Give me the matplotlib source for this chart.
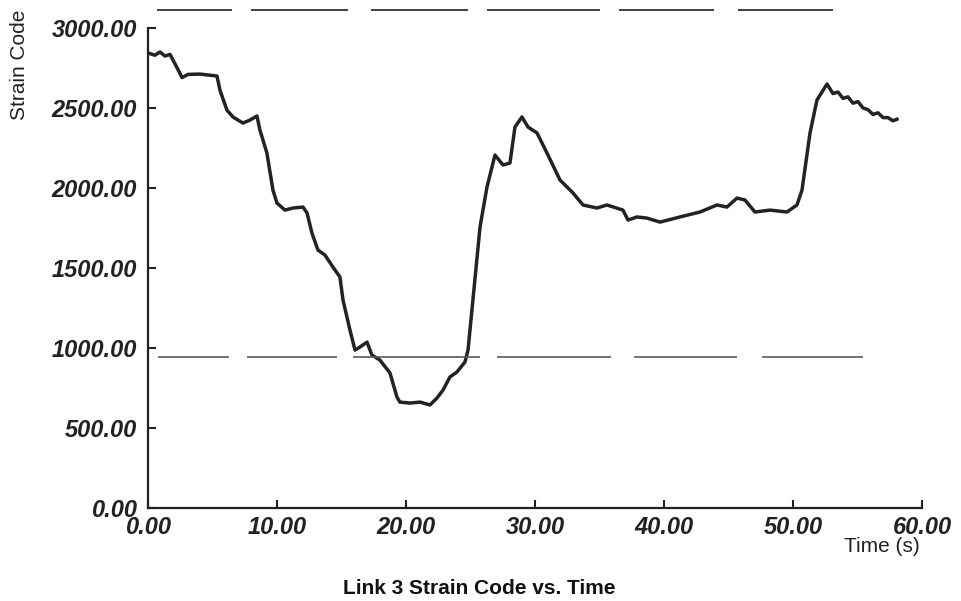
import matplotlib
matplotlib.use('Agg')
import matplotlib.pyplot as plt

# strain code trace
time_s = [0.00, 0.54, 0.93, 1.32, 1.71, 1.94, 2.33, 2.64, 3.10, 4.03, 4.81, 5.35,
          5.58, 6.12, 6.59, 7.36, 7.91, 8.45, 8.68, 9.22, 9.69, 10.00, 10.62, 11.24,
          12.02, 12.33, 12.71, 13.18, 13.72, 14.34, 14.88, 15.12, 15.66, 16.05, 16.43,
          16.98, 17.36, 17.98, 18.76, 19.30, 19.53, 20.31, 21.09, 21.86, 22.40, 22.87,
          23.41, 23.95, 24.57, 24.81, 25.19, 25.74, 26.28, 26.90, 27.52, 28.06, 28.45,
          28.99, 29.46, 30.16, 30.93, 31.94, 32.95, 33.72, 34.81, 35.58, 36.82, 37.21,
          37.91, 38.68, 39.69, 41.24, 42.79, 44.11, 44.88, 45.66, 46.28, 47.05, 48.22,
          49.53, 50.31, 50.70, 51.32, 51.86, 52.25, 52.64, 53.10, 53.49, 53.88, 54.26,
          54.65, 55.04, 55.43, 55.81, 56.20, 56.59, 56.98, 57.36, 57.75, 58.06]
strain = [2844, 2830, 2850, 2825, 2835, 2800, 2740, 2690, 2710, 2712, 2705, 2700,
          2612, 2487, 2444, 2406, 2425, 2450, 2362, 2219, 1987, 1906, 1862, 1875,
          1881, 1844, 1719, 1612, 1581, 1506, 1444, 1300, 1112, 987, 1006,
          1037, 956, 925, 844, 694, 662, 656, 662, 644, 687, 737,
          819, 850, 912, 987, 1300, 1756, 2006, 2206, 2144, 2156, 2381,
          2444, 2381, 2344, 2219, 2050, 1969, 1894, 1875, 1894, 1862, 1800,
          1819, 1812, 1787, 1819, 1850, 1894, 1881, 1937, 1925, 1850, 1862,
          1850, 1894, 1987, 2344, 2550, 2600, 2650, 2590, 2600, 2560, 2570,
          2530, 2540, 2500, 2490, 2460, 2470, 2440, 2440, 2420, 2430]

upper_limit = 3110
lower_limit = 944
upper_span = [0.70, 53.10]
lower_span = [0.78, 55.43]

x_ticks = [0, 10, 20, 30, 40, 50, 60]
y_ticks = [0, 500, 1000, 1500, 2000, 2500, 3000]

# irregular dash lengths of the hand-drawn limit lines, in pixels
upper_dash_px = [75, 19, 97, 23, 97, 19, 113, 19, 95, 24, 95, 40]
lower_dash_px = [71, 18, 90, 16, 127, 17, 114, 23, 103, 25, 101, 40]

plt.rcParams['lines.scale_dashes'] = False

fig = plt.figure(figsize=(9.62, 6.01), dpi=100)
ax = fig.add_axes([0.1538, 0.1547, 0.8046, 0.7987])

tick_font = {'family': 'Liberation Sans', 'weight': 'bold', 'style': 'italic', 'size': 17}

ax.plot(time_s, strain, color='#232323', lw=2.5, solid_joinstyle='round')
ax.plot(upper_span, [upper_limit, upper_limit], color='#333333', lw=1.3,
        dashes=[p * 0.72 for p in upper_dash_px], clip_on=False)
ax.plot(lower_span, [lower_limit, lower_limit], color='#5a5a5a', lw=1.2,
        dashes=[p * 0.72 for p in lower_dash_px])

ax.set_xlim(0, 60)
ax.set_ylim(0, 3000)
ax.set_xticks(x_ticks)
ax.set_yticks(y_ticks)
ax.set_xticklabels([f'{v:.2f}' for v in x_ticks], fontdict=tick_font)
ax.set_yticklabels([f'{v:.2f}' for v in y_ticks], fontdict=tick_font)
ax.tick_params(direction='in', length=6, width=1.5, color='#222222', labelcolor='#222222')
ax.tick_params(axis='x', pad=6)
ax.tick_params(axis='y', pad=8)

for side in ['top', 'right']:
    ax.spines[side].set_visible(False)
for side in ['left', 'bottom']:
    ax.spines[side].set_linewidth(1.6)
    ax.spines[side].set_color('#222222')

fig.text(20 / 962, 1 - 65 / 601, 'Strain Code', rotation=90, ha='center', va='center',
         family='Liberation Sans', size=15, color='#222222')
fig.text(920 / 962, 1 - 547 / 601, 'Time (s)', ha='right', va='center',
         family='Liberation Sans', size=15, color='#222222')
fig.text(479 / 962, 1 - 588 / 601, 'Link 3 Strain Code vs. Time', ha='center', va='center',
         family='Liberation Sans', weight='bold', size=15, color='#111111')

fig.savefig('out.png', dpi=100)
